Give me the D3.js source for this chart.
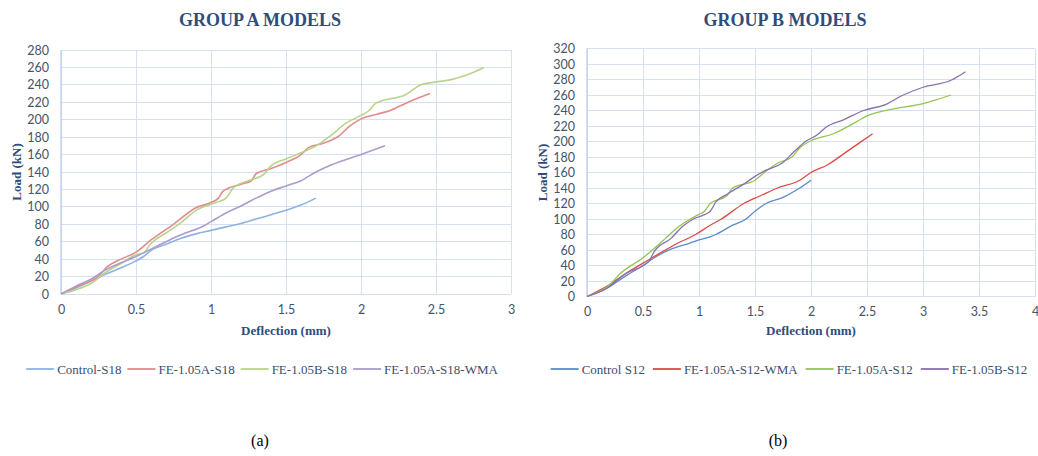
<!DOCTYPE html>
<html><head><meta charset="utf-8">
<script src="https://cdn.jsdelivr.net/npm/d3@7"></script>
<style>
body{margin:0;background:#fff;}
svg{display:block;}
</style></head>
<body><svg id="c" width="1038" height="456"></svg>
<script>
// ---- Group A data (Deflection mm, Load kN) ----
const controlS18 = [[0,0],[0.1,7],[0.2,15],[0.3,23],[0.4,30],[0.5,38],[0.55,43],[0.6,50],[0.7,57],[0.8,64],[0.9,69],[1.0,73],[1.1,77],[1.2,81],[1.3,86],[1.4,91],[1.5,96],[1.6,102],[1.7,110]];
const fe105A_S18 = [[0,0],[0.1,8],[0.2,15],[0.25,20],[0.3,30],[0.4,40],[0.5,48],[0.6,62],[0.75,80],[0.9,99],[1.0,105],[1.05,110],[1.08,118],[1.2,126],[1.27,130],[1.3,138],[1.4,144],[1.5,151],[1.6,160],[1.65,168],[1.75,173],[1.85,181],[1.92,192],[2.0,201],[2.1,206],[2.2,211],[2.3,219],[2.46,230]];
const fe105B_S18 = [[0,0],[0.1,5],[0.2,12],[0.3,25],[0.4,35],[0.5,45],[0.55,47],[0.6,58],[0.7,70],[0.8,82],[0.9,96],[1.0,103],[1.05,106],[1.1,110],[1.15,122],[1.25,130],[1.35,137],[1.4,147],[1.5,155],[1.6,162],[1.7,170],[1.8,182],[1.9,196],[2.0,205],[2.05,210],[2.1,219],[2.3,229],[2.4,240],[2.6,246],[2.7,251],[2.82,260]];
const fe105A_S18_WMA = [[0,0],[0.1,9],[0.2,17],[0.3,28],[0.5,43],[0.7,60],[0.8,68],[0.95,78],[1.0,83],[1.1,93],[1.2,101],[1.3,110],[1.4,118],[1.5,124],[1.6,130],[1.7,140],[1.8,148],[2.0,160],[2.16,170]];
// ---- Group B data ----
const controlS12 = [[0,0],[0.17,10],[0.35,27],[0.5,40],[0.6,50],[0.75,61],[0.9,68],[1.0,73],[1.1,77],[1.15,80],[1.3,92],[1.42,100],[1.5,110],[1.6,120],[1.75,128],[1.9,140],[2.0,150]];
const fe105A_S12_WMA = [[0,0],[0.2,15],[0.35,30],[0.5,43],[0.7,60],[0.8,68],[0.97,80],[1.1,92],[1.2,100],[1.4,120],[1.55,130],[1.7,140],[1.9,150],[2.0,160],[2.15,170],[2.3,185],[2.55,210]];
const fe105A_S12 = [[0,0],[0.2,15],[0.3,30],[0.5,50],[0.6,62],[0.7,75],[0.8,88],[0.9,98],[1.0,106],[1.05,110],[1.1,120],[1.25,130],[1.3,140],[1.5,150],[1.6,162],[1.7,172],[1.83,180],[1.9,192],[2.0,201],[2.2,210],[2.4,225],[2.5,233],[2.7,241],[3.0,249],[3.1,253],[3.25,260]];
const fe105B_S12 = [[0,0],[0.17,10],[0.35,30],[0.55,45],[0.6,58],[0.75,75],[0.85,90],[0.95,100],[1.1,110],[1.15,122],[1.25,132],[1.4,145],[1.5,155],[1.6,163],[1.75,173],[1.85,187],[1.95,200],[2.05,208],[2.15,220],[2.29,228],[2.47,240],[2.67,248],[2.81,259],[3.0,270],[3.25,279],[3.38,290]];

const namesA = ["Control-S18","FE-1.05A-S18","FE-1.05B-S18","FE-1.05A-S18-WMA"];
const namesB = ["Control S12","FE-1.05A-S12-WMA","FE-1.05A-S12","FE-1.05B-S12"];
const colorsA = ["#8DB3E2","#E08C8C","#B7D48A","#AA9CCC"];
const colorsB = ["#5B8BC9","#DB4B48","#93C550","#8A70AE"];
const xTicksA = [0,0.5,1,1.5,2,2.5,3];
const yTicksA = d3.range(0,281,20);
const xTicksB = [0,0.5,1,1.5,2,2.5,3,3.5,4];
const yTicksB = d3.range(0,321,20);

const svg = d3.select("#c");
const tickColor = "#44546A";
const titleColor = "#2E4D7B";
const serif = "Liberation Serif, Times New Roman, serif";

function chart(cfg){
  const g = svg.append("g");
  const x = d3.scaleLinear().domain([0,cfg.xmax]).range([cfg.x0,cfg.x1]);
  const y = d3.scaleLinear().domain([0,cfg.ymax]).range([cfg.y0,cfg.y1]);
  g.append("g").selectAll("line").data(cfg.yt).join("line")
    .attr("x1",cfg.x0).attr("x2",cfg.x1).attr("y1",d=>y(d)).attr("y2",d=>y(d))
    .attr("stroke","#D5E1F2").attr("stroke-width",1).attr("shape-rendering","crispEdges");
  g.append("g").selectAll("line").data(cfg.xt).join("line")
    .attr("x1",d=>x(d)).attr("x2",d=>x(d)).attr("y1",cfg.y0).attr("y2",cfg.y1)
    .attr("stroke","#D5E1F2").attr("stroke-width",1).attr("shape-rendering","crispEdges");
  g.append("line").attr("x1",cfg.x0).attr("x2",cfg.x0).attr("y1",cfg.y0).attr("y2",cfg.y1)
    .attr("stroke","#C3D3EC").attr("stroke-width",1.5);
  const ax = g.append("g").attr("transform",`translate(0,${cfg.y0})`)
    .call(d3.axisBottom(x).tickValues(cfg.xt).tickFormat(d3.format("~g")).tickSize(0).tickPadding(11));
  const ay = g.append("g").attr("transform",`translate(${cfg.x0},0)`)
    .call(d3.axisLeft(y).tickValues(cfg.yt).tickSize(0).tickPadding(12));
  [ax,ay].forEach(a=>{a.select(".domain").remove();
    a.selectAll("text").attr("fill",tickColor).attr("font-family","Lato, Open Sans, sans-serif").attr("font-size","12.5px");});
  const line = d3.line().x(d=>x(d[0])).y(d=>y(d[1])).curve(d3.curveMonotoneX);
  cfg.series.forEach((s,i)=>{
    g.append("path").datum(s).attr("d",line).attr("fill","none")
      .attr("stroke",cfg.colors[i]).attr("stroke-width",cfg.sw).attr("stroke-linejoin","round");
  });
  g.append("text").attr("x",cfg.tx).attr("y",26).attr("text-anchor","middle")
    .attr("fill",titleColor).attr("font-family",serif).attr("font-weight","bold").attr("font-size","18px")
    .text(cfg.title);
  g.append("text").attr("x",(cfg.x0+cfg.x1)/2).attr("y",335).attr("text-anchor","middle")
    .attr("fill",titleColor).attr("font-family",serif).attr("font-weight","bold").attr("font-size","13px")
    .text("Deflection (mm)");
  g.append("text").attr("transform",`translate(${cfg.lx},${(cfg.y0+cfg.y1)/2}) rotate(-90)`).attr("text-anchor","middle")
    .attr("fill",titleColor).attr("font-family",serif).attr("font-weight","bold").attr("font-size","13px")
    .text("Load (kN)");
  const lg = g.append("g");
  let cx = 0;
  cfg.names.forEach((n,i)=>{
    const it = lg.append("g").attr("transform",`translate(${cx},0)`);
    it.append("line").attr("x1",0).attr("x2",28).attr("y1",0).attr("y2",0).attr("stroke",cfg.colors[i]).attr("stroke-width",1.8);
    const t = it.append("text").attr("x",31).attr("y",4.5).attr("fill","#3B4F6E")
      .attr("font-family",serif).attr("font-size","13px").text(n);
    cx += 31 + t.node().getComputedTextLength() + cfg.gap;
  });
  const w = cx - cfg.gap;
  lg.attr("transform",`translate(${cfg.lcx - w/2},369)`);
  g.append("text").attr("x",cfg.capx).attr("y",446).attr("text-anchor","middle").attr("fill","#000")
    .attr("font-family",serif).attr("font-size","16px").text(cfg.cap);
}

chart({x0:61,x1:511,y0:294,y1:50,xmax:3,ymax:280,xt:xTicksA,yt:yTicksA,sw:1.6,
  series:[controlS18,fe105A_S18,fe105B_S18,fe105A_S18_WMA],names:namesA,colors:colorsA,
  title:"GROUP A MODELS",tx:260,lx:21,lcx:262,gap:6,cap:"(a)",capx:260});
chart({x0:587,x1:1035,y0:296.5,y1:48.5,xmax:4,ymax:320,xt:xTicksB,yt:yTicksB,sw:1.3,
  series:[controlS12,fe105A_S12_WMA,fe105A_S12,fe105B_S12],names:namesB,colors:colorsB,
  title:"GROUP B MODELS",tx:785,lx:547,lcx:789,gap:8,cap:"(b)",capx:778});
</script></body></html>
